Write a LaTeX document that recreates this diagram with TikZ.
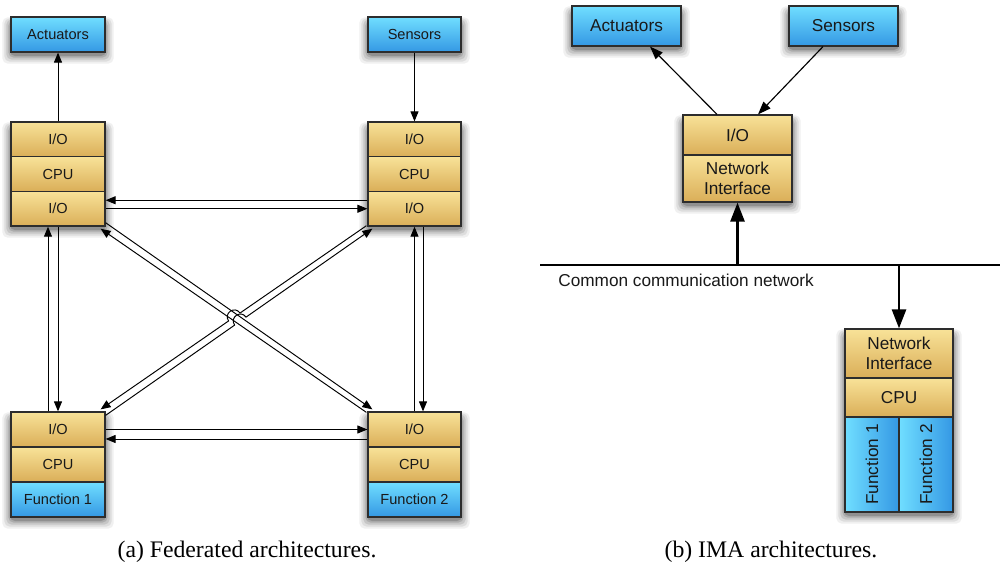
\documentclass[tikz,border=0pt]{standalone}
\usepackage{fontspec}
\setmainfont{Liberation Serif}
\setsansfont{Liberation Sans}
\usetikzlibrary{arrows.meta,calc}
\pgfdeclarelayer{background}
\pgfsetlayers{background,main}

\definecolor{goldT}{RGB}{248,226,152}
\definecolor{goldB}{RGB}{218,174,88}
\definecolor{blueT}{RGB}{112,222,255}
\definecolor{blueB}{RGB}{52,152,228}
\definecolor{edgec}{RGB}{45,45,45}
\definecolor{txt}{RGB}{25,25,25}

\tikzset{
 boxbase/.style={draw=edgec, line width=0.7pt, inner sep=0pt, align=center, text=txt,
   font=\sffamily\fontsize{8.3}{9.5}\selectfont},
 goldbox/.style={boxbase, top color=goldT, bottom color=goldB},
 bluebox/.style={boxbase, top color=blueT, bottom color=blueB},
 bluelr/.style={boxbase, left color=blueT, right color=blueB},
 big/.style={font=\sffamily\fontsize{9.8}{11.3}\selectfont},
 Lw/.style={minimum width=1.88cm},
 Rw/.style={minimum width=1.86cm},
 arr/.style={draw=black, line width=0.55pt, -{Triangle[length=2mm,width=1.6mm]}},
 arrb/.style={draw=black, line width=0.65pt, -{Triangle[length=2.6mm,width=1.9mm]}},
 fatarr/.style={draw=black, line width=1.5pt, -{Triangle[length=3.8mm,width=2.8mm]}},
 captxt/.style={font=\fontsize{13.5}{16}\selectfont, text=black, inner sep=0pt},
}

% soft drop shadow below a rectangle given by its north-west and south-east corners
\newcommand{\dropshade}[2]{%
  \foreach \e/\o in {8/0.06,6/0.08,4/0.10,2/0.13,0.5/0.16}{%
    \fill[black, opacity=\o, rounded corners=3pt]
      ($(#1)+(-\e,{5-\e*0.5})$) rectangle ($(#2)+(\e,{3+\e})$);}}

\begin{document}
\begin{tikzpicture}[x=0.02cm,y=-0.02cm]
\useasboundingbox (0,0) rectangle (1000,570);

% ---------------- (a) federated ----------------
\node[bluebox, Lw, minimum height=0.7cm] (actL) at (58,34.5) {Actuators};
\node[bluebox, Rw, minimum height=0.7cm] (senL) at (414.5,34.5) {Sensors};

\node[goldbox, Lw, minimum height=0.694cm] (tl1) at (58,139.35) {I/O};
\node[goldbox, Lw, minimum height=0.694cm] (tl2) at (58,174.05) {CPU};
\node[goldbox, Lw, minimum height=0.694cm] (tl3) at (58,208.75) {I/O};

\node[goldbox, Rw, minimum height=0.694cm] (tr1) at (414.5,139.35) {I/O};
\node[goldbox, Rw, minimum height=0.694cm] (tr2) at (414.5,174.05) {CPU};
\node[goldbox, Rw, minimum height=0.694cm] (tr3) at (414.5,208.75) {I/O};

\node[goldbox, Lw, minimum height=0.7cm] (bl1) at (58,429.5) {I/O};
\node[goldbox, Lw, minimum height=0.7cm] (bl2) at (58,464.5) {CPU};
\node[bluebox, Lw, minimum height=0.7cm] (bl3) at (58,499.5) {Function 1};

\node[goldbox, Rw, minimum height=0.7cm] (br1) at (414.5,429.5) {I/O};
\node[goldbox, Rw, minimum height=0.7cm] (br2) at (414.5,464.5) {CPU};
\node[bluebox, Rw, minimum height=0.7cm] (br3) at (414.5,499.5) {Function 2};

\draw[arr] (tl1.north) -- (actL.south);
\draw[arr] (senL.south) -- (tr1.north);

% horizontal pairs
\draw[arr] ([yshift=0.17cm]tr3.west) -- ([yshift=0.17cm]tl3.east);
\draw[arr] (tl3.east) -- (tr3.west);
\draw[arr] (bl1.east) -- (br1.west);
\draw[arr] ([yshift=-0.19cm]br1.west) -- ([yshift=-0.19cm]bl1.east);

% vertical pairs
\draw[arr] ([xshift=-0.2cm]bl1.north) -- ([xshift=-0.2cm]tl3.south);
\draw[arr] (tl3.south) -- (bl1.north);
\draw[arr] (br1.north) -- (tr3.south);
\draw[arr] ([xshift=0.17cm]tr3.south) -- ([xshift=0.17cm]br1.north);

% diagonals
\coordinate (a0) at ([xshift=-0.02cm,yshift=-0.02cm]br1.north west);
\coordinate (a1) at ([xshift=-0.1cm,yshift=-0.04cm]tl3.south east);
\coordinate (b0) at ([yshift=0.08cm]tl3.south east);
\coordinate (b1) at ([xshift=0.1cm,yshift=0.04cm]br1.north west);
\coordinate (c0) at ([xshift=-0.02cm,yshift=0.02cm]tr3.south west);
\coordinate (c1) at ([xshift=-0.1cm,yshift=0.04cm]bl1.north east);
\coordinate (d0) at ([yshift=-0.08cm]bl1.north east);
\coordinate (d1) at ([xshift=0.1cm,yshift=-0.04cm]tr3.south west);

\draw[arr] (a0) -- (a1);
\draw[arr] (b0) -- (b1);

% line hops over the other diagonal pair
\coordinate (ch1) at ($(c0)!0.4755!(c1)$);
\coordinate (ch2) at ($(c0)!0.5185!(c1)$);
\draw[arr] (c0) -- (ch1) .. controls ($(ch1)!0.187cm!-90:(ch2)$) and ($(ch2)!0.187cm!90:(ch1)$) .. (ch2) -- (c1);

\coordinate (dh1) at ($(d0)!0.4836!(d1)$);
\coordinate (dh2) at ($(d0)!0.5264!(d1)$);
\draw[arr] (d0) -- (dh1) .. controls ($(dh1)!0.187cm!90:(dh2)$) and ($(dh2)!0.187cm!-90:(dh1)$) .. (dh2) -- (d1);

% ---------------- (b) IMA ----------------
\node[bluebox, big, minimum width=2.18cm, minimum height=0.8cm] (actR) at (626.5,26) {Actuators};
\node[bluebox, big, minimum width=2.18cm, minimum height=0.8cm] (senR) at (843.5,26) {Sensors};
\node[goldbox, big, minimum width=2.18cm, minimum height=0.8cm] (io) at (737.5,135) {I/O};
\node[goldbox, big, minimum width=2.18cm, minimum height=0.94cm] (ni) at (737.5,178.5) {Network\\Interface};

\node[goldbox, big, minimum width=2.16cm, minimum height=0.98cm] (ni2) at (899,353.5) {Network\\Interface};
\node[goldbox, big, minimum width=2.16cm, minimum height=0.78cm] (cpu2) at (899,397.5) {CPU};
\node[bluelr, big, minimum width=1.08cm, minimum height=1.9cm] (f1) at (872,464.5) {\rotatebox{90}{Function 1}};
\node[bluelr, big, minimum width=1.08cm, minimum height=1.9cm] (f2) at (926,464.5) {\rotatebox{90}{Function 2}};

\draw[arrb] ([xshift=-0.41cm]io.north) -- ([xshift=0.47cm]actR.south);
\draw[arrb] ([xshift=-0.41cm]senR.south) -- ([xshift=0.41cm]io.north);

\coordinate (netL) at (540,265);
\coordinate (netR) at (1000,265);
\draw[line width=1.4pt] (netL) -- (netR);
\node[big, anchor=west, inner sep=0pt, text=txt] (nettxt) at (558,280) {Common communication network};
\draw[fatarr] (ni.south |- netL) -- (ni.south);
\draw[fatarr] (ni2.north |- netL) -- (ni2.north);

% captions
\node[captxt] (capA) at (247,552) {(a) Federated architectures.};
\node[captxt] (capB) at (771,552) {(b) IMA architectures.};

% background and shadows
\begin{pgfonlayer}{background}
\fill[white] (0,0) rectangle (1000,570);
\dropshade{actL.north west}{actL.south east}
\dropshade{senL.north west}{senL.south east}
\dropshade{tl1.north west}{tl3.south east}
\dropshade{tr1.north west}{tr3.south east}
\dropshade{bl1.north west}{bl3.south east}
\dropshade{br1.north west}{br3.south east}
\dropshade{actR.north west}{actR.south east}
\dropshade{senR.north west}{senR.south east}
\dropshade{io.north west}{ni.south east}
\dropshade{ni2.north west}{f2.south east}
\end{pgfonlayer}
\end{tikzpicture}
\end{document}
